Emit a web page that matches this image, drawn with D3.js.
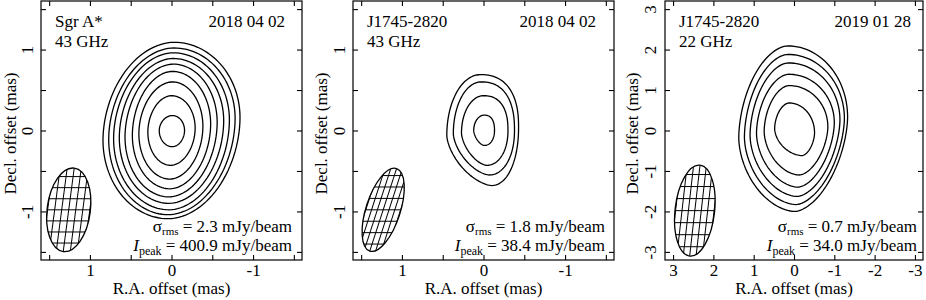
<!DOCTYPE html>
<html>
<head>
<meta charset="utf-8">
<script src="https://cdn.jsdelivr.net/npm/d3@7"></script>
<style>
  body { margin: 0; background: #fff; }
  text { font-family: "Liberation Serif", "Times New Roman", serif; font-size: 17px; fill: #000; }
</style>
</head>
<body>
<div id="chart"></div>
<script>
// Panel labels
var sources = ["Sgr A*", "J1745-2820", "J1745-2820"];
var freqs = ["43 GHz", "43 GHz", "22 GHz"];
var dates = ["2018 04 02", "2018 04 02", "2019 01 28"];
var rmsNoise = ["2.3", "1.8", "0.7"];
var peakFlux = ["400.9", "38.4", "34.0"];

// Axis limits (mas) and ticks
var axisLimit = [1.6, 1.6, 3.2];
var ticksA = [-1.5, -1, -0.5, 0, 0.5, 1, 1.5];
var ticksB = [-1.5, -1, -0.5, 0, 0.5, 1, 1.5];
var ticksC = [-3, -2, -1, 0, 1, 2, 3];

// Contours: extreme points [top, right, bottom, left], each [RA, Dec] in mas
var contoursA = [
  [[-0.03, 1.09], [-0.84, 0.16], [0.04, -1.09], [0.84, -0.12]],
  [[-0.03, 1.02], [-0.78, 0.15], [0.04, -1.04], [0.77, -0.11]],
  [[-0.02, 0.96], [-0.71, 0.13], [0.03, -0.98], [0.71, -0.10]],
  [[-0.02, 0.89], [-0.64, 0.12], [0.03, -0.90], [0.64, -0.09]],
  [[-0.02, 0.82], [-0.56, 0.10], [0.03, -0.82], [0.57, -0.08]],
  [[-0.01, 0.73], [-0.48, 0.08], [0.02, -0.72], [0.48, -0.06]],
  [[-0.01, 0.60], [-0.385, 0.05], [0.02, -0.60], [0.40, -0.04]],
  [[0.00, 0.43], [-0.29, 0.03], [0.01, -0.43], [0.29, -0.02]],
  [[-0.01, 0.185], [-0.16, 0.00], [-0.01, -0.20], [0.15, 0.00]]
];
var contoursB = [
  [[0.04, 0.69], [-0.43, 0.04], [-0.10, -0.68], [0.45, -0.06]],
  [[0.03, 0.60], [-0.38, 0.00], [-0.07, -0.55], [0.37, -0.04]],
  [[0.00, 0.43], [-0.30, 0.00], [-0.04, -0.43], [0.27, -0.03]],
  [[-0.01, 0.19], [-0.135, 0.00], [-0.01, -0.185], [0.12, 0.00]]
];
var contoursC = [
  [[0.15, 2.09], [-1.33, 0.33], [-0.02, -2.00], [1.37, -0.18]],
  [[0.15, 1.88], [-1.25, 0.30], [-0.05, -1.83], [1.23, -0.16]],
  [[0.14, 1.67], [-1.14, 0.26], [-0.08, -1.63], [1.09, -0.12]],
  [[0.13, 1.39], [-1.00, 0.19], [-0.10, -1.40], [0.93, -0.07]],
  [[0.12, 1.11], [-0.84, 0.09], [-0.13, -1.10], [0.74, -0.02]],
  [[0.12, 0.68], [-0.51, -0.06], [-0.20, -0.62], [0.48, 0.05]]
];

// Restoring beams: [RA, Dec, major, minor] in mas, PA in deg
var beamA = [1.26, -0.98, 0.52, 0.265, -7.5];
var beamB = [1.23, -0.98, 0.536, 0.21, -18];
var beamC = [2.46, -1.98, 1.13, 0.49, -6.5];

var panels = [
  { left: 41, width: 261, contours: contoursA, ticks: ticksA, beam: beamA, shape: [2.0, 1.9, 2.0, 1.9],
    dateInset: 17, statInset: 10, ylabX: -25, tickX: -8 },
  { left: 353, width: 261, contours: contoursB, ticks: ticksB, beam: beamB, shape: [2.4, 2.1, 1.6, 2.0],
    dateInset: 18, statInset: 9, ylabX: -26, tickX: -8 },
  { left: 665, width: 258, contours: contoursC, ticks: ticksC, beam: beamC, shape: [2.0, 1.7, 1.8, 1.8],
    dateInset: 12, statInset: 6, ylabX: -27, tickX: -9 }
];

var frameTop = 1, frameH = 259;
var serif = '"Liberation Serif", "Times New Roman", serif';

var svg = d3.select("#chart").append("svg")
  .attr("width", 926)
  .attr("height", 300);

panels.forEach(function (p, i) {
  var lim = axisLimit[i];
  var x = d3.scaleLinear().domain([lim, -lim]).range([0, p.width]);
  var y = d3.scaleLinear().domain([-lim, lim]).range([frameH, 0]);

  var g = svg.append("g").attr("transform", "translate(" + p.left + "," + frameTop + ")");

  var fmt = function (d) { return Number.isInteger(d) ? String(d) : ""; };

  // axes, ticks pointing inward on all four sides
  g.append("g").attr("transform", "translate(0," + frameH + ")")
    .call(d3.axisBottom(x).tickValues(p.ticks).tickFormat(fmt).tickSizeInner(-5).tickSizeOuter(0).tickPadding(4));
  g.append("g")
    .call(d3.axisTop(x).tickValues(p.ticks).tickFormat("").tickSizeInner(-5).tickSizeOuter(0));
  g.append("g").attr("transform", "translate(" + p.width + ",0)")
    .call(d3.axisRight(y).tickValues(p.ticks).tickFormat("").tickSizeInner(-5).tickSizeOuter(0));
  var leftAx = g.append("g")
    .call(d3.axisLeft(y).tickValues(p.ticks).tickFormat(fmt).tickSizeInner(-5).tickSizeOuter(0));

  g.selectAll(".domain").remove();
  g.selectAll("g").attr("font-family", serif).attr("font-size", 17);
  g.selectAll(".tick line").attr("stroke", "#000").attr("stroke-width", 1.1);

  leftAx.selectAll(".tick text")
    .attr("x", null).attr("dy", null)
    .attr("text-anchor", "middle")
    .attr("transform", "translate(" + p.tickX + ",0) rotate(-90)");

  // frame
  g.append("rect")
    .attr("width", p.width).attr("height", frameH)
    .attr("fill", "none").attr("stroke", "#000").attr("stroke-width", 1.2);

  // contours: each quadrant is a superellipse arc between two extreme points
  var line = d3.line();
  var steps = d3.range(0, 91, 3).map(function (a) { return a * Math.PI / 180; });
  function sp(v, n) { return Math.pow(Math.max(v, 0), 2 / n); }
  function contourPath(c) {
    var T = [x(c[0][0]), y(c[0][1])], R = [x(c[1][0]), y(c[1][1])],
        B = [x(c[2][0]), y(c[2][1])], L = [x(c[3][0]), y(c[3][1])];
    var n = p.shape, pts = [];
    steps.forEach(function (t) { pts.push([T[0] + (R[0] - T[0]) * sp(Math.sin(t), n[0]), R[1] + (T[1] - R[1]) * sp(Math.cos(t), n[0])]); });
    steps.forEach(function (t) { pts.push([B[0] + (R[0] - B[0]) * sp(Math.cos(t), n[1]), R[1] + (B[1] - R[1]) * sp(Math.sin(t), n[1])]); });
    steps.forEach(function (t) { pts.push([B[0] + (L[0] - B[0]) * sp(Math.sin(t), n[2]), L[1] + (B[1] - L[1]) * sp(Math.cos(t), n[2])]); });
    steps.forEach(function (t) { pts.push([T[0] + (L[0] - T[0]) * sp(Math.cos(t), n[3]), L[1] + (T[1] - L[1]) * sp(Math.sin(t), n[3])]); });
    return line(pts) + "Z";
  }
  g.append("g").selectAll("path")
    .data(p.contours)
    .enter().append("path")
    .attr("d", contourPath)
    .attr("fill", "none")
    .attr("stroke", "#000")
    .attr("stroke-width", 1.3);

  // beam with cross hatching
  var b = p.beam;
  var cx = x(b[0]), cy = y(b[1]);
  var ry = Math.abs(y(b[2]) - y(0)), rx = Math.abs(x(b[3]) - x(0));
  var rot = "translate(" + cx + "," + cy + ") rotate(" + (-b[4]) + ")";
  g.append("clipPath").attr("id", "beamclip" + i)
    .append("ellipse").attr("rx", rx).attr("ry", ry).attr("transform", rot);
  var hatch = g.append("g").attr("clip-path", "url(#beamclip" + i + ")");
  var hStep = ry / 3.8, vStep = rx / 3.1;
  d3.range(-5, 6).forEach(function (k) {
    hatch.append("line")
      .attr("x1", cx - 60).attr("x2", cx + 60)
      .attr("y1", cy + k * hStep).attr("y2", cy + k * hStep)
      .attr("stroke", "#000").attr("stroke-width", 1);
  });
  var vg = hatch.append("g").attr("transform", rot);
  d3.range(-3, 4).forEach(function (k) {
    vg.append("line")
      .attr("x1", k * vStep).attr("x2", k * vStep)
      .attr("y1", -ry - 5).attr("y2", ry + 5)
      .attr("stroke", "#000").attr("stroke-width", 1);
  });
  g.append("ellipse")
    .attr("rx", rx).attr("ry", ry).attr("transform", rot)
    .attr("fill", "none").attr("stroke", "#000").attr("stroke-width", 1.3);

  // labels in the panel
  g.append("text").attr("x", 14).attr("y", 26).text(sources[i]);
  g.append("text").attr("x", 14).attr("y", 46).text(freqs[i]);
  g.append("text").attr("x", p.width - p.dateInset).attr("y", 26)
    .attr("text-anchor", "end").text(dates[i]);

  var s1 = g.append("text").attr("x", p.width - p.statInset).attr("y", 231).attr("text-anchor", "end");
  s1.append("tspan").text("σ");
  s1.append("tspan").attr("font-size", "11px").attr("dy", 3).text("rms");
  s1.append("tspan").attr("dy", -3).text(" = " + rmsNoise[i] + " mJy/beam");

  var s2 = g.append("text").attr("x", p.width - p.statInset).attr("y", 250).attr("text-anchor", "end");
  s2.append("tspan").attr("font-style", "italic").text("I");
  s2.append("tspan").attr("font-size", "12px").attr("dy", 4).text("peak");
  s2.append("tspan").attr("dy", -4).text(" = " + peakFlux[i] + " mJy/beam");

  // axis titles
  g.append("text")
    .attr("x", p.width / 2).attr("y", 293)
    .attr("text-anchor", "middle")
    .text("R.A. offset (mas)");
  g.append("text")
    .attr("transform", "translate(" + p.ylabX + "," + (frameH / 2 + 3) + ") rotate(-90)")
    .attr("text-anchor", "middle")
    .text("Decl. offset (mas)");
});
</script>
</body>
</html>
